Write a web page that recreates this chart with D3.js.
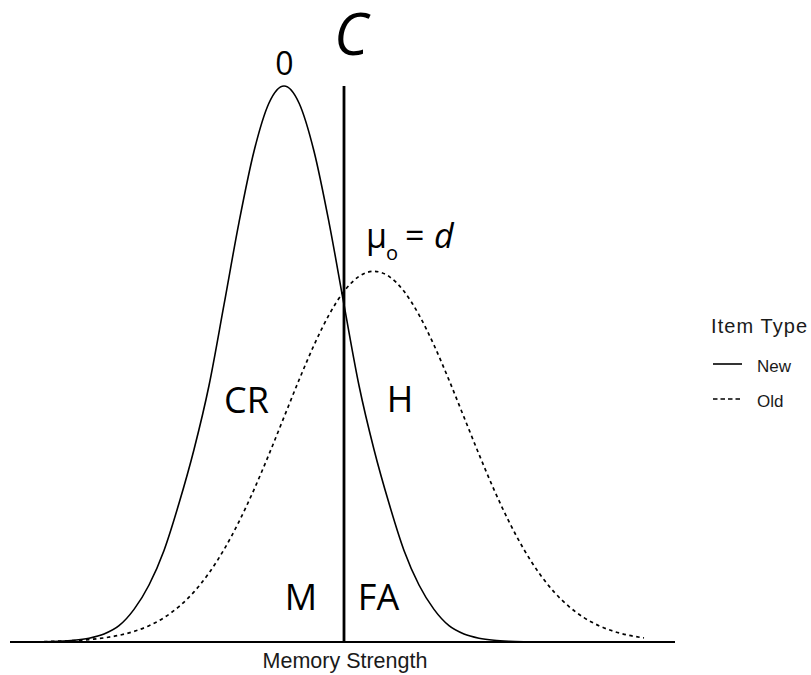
<!DOCTYPE html>
<html><head><meta charset="utf-8">
<script src="https://cdn.jsdelivr.net/npm/d3@7"></script>
<style>body{margin:0;background:#fff}</style>
</head><body>
<svg id="c" width="811" height="675"></svg>
<script>
// Memory strength values (x) and density readings for each item type
const xs = [-4,-3.75,-3.5,-3.25,-3,-2.75,-2.5,-2.25,-2,-1.75,-1.5,-1.25,-1,-0.75,-0.5,-0.25,0,0.25,0.5,0.75,1,1.25,1.5,1.75,2,2.25,2.5,2.75,3,3.25,3.5,3.75,4,4.25,4.5,4.75,5,5.25,5.5,5.75,6];
const newDensity = [0.00021,0.00053,0.00124,0.00275,0.00574,0.0117,0.0234,0.0409,0.0657,0.0995,0.1381,0.184,0.242,0.3011,0.3521,0.3867,0.3989,0.3867,0.3521,0.3011,0.242,0.184,0.1381,0.0995,0.0657,0.0409,0.0234,0.0117,0.00574,0.00275,0.00124,0.00053,0.00021,0.00008,0.00003,0,0,0,0,0,0];
const oldDensity = [0.00032,0.000582,0.001028,0.001766,0.002955,0.004803,0.007598,0.011685,0.01748,0.02544,0.03599,0.04954,0.06632,0.08635,0.10934,0.13467,0.16131,0.18795,0.21297,0.23471,0.25159,0.26229,0.26596,0.26229,0.25159,0.23471,0.21297,0.18795,0.16131,0.13467,0.10934,0.08635,0.06632,0.04954,0.03599,0.02544,0.01748,0.011685,0.007598,0.004803,0.002955];
const seriesNames = ["New","Old"];
const criterion = 1;
const newMean = 0, oldMean = 1.5, peakDensity = 0.3989;
const regionLabels = [
  {t:"CR", x:-0.625, y:0.1643},
  {t:"H",  x:1.933,  y:0.1650},
  {t:"M",  x:0.283,  y:0.023},
  {t:"FA", x:1.575,  y:0.023}
];

const svg = d3.select("#c");
const x = d3.scaleLinear().domain([-4.567, 6.517]).range([10, 675]);
const y = d3.scaleLinear().domain([0, peakDensity]).range([642, 86]);

const line = d3.line().x(d => x(d[0])).y(d => y(d[1])).curve(d3.curveMonotoneX);

// axis line
svg.append("line").attr("x1", x.range()[0]).attr("x2", x.range()[1])
  .attr("y1", y(0)).attr("y2", y(0)).attr("stroke", "#000").attr("stroke-width", 2);

svg.append("path").datum(xs.map((v,i)=>[v,newDensity[i]]))
  .attr("d", line).attr("fill","none").attr("stroke","#000").attr("stroke-width",1.6);
svg.append("path").datum(xs.map((v,i)=>[v,oldDensity[i]]))
  .attr("d", line).attr("fill","none").attr("stroke","#000").attr("stroke-width",1.7)
  .attr("stroke-dasharray","3.5,3.5");

// criterion
svg.append("line").attr("x1", x(criterion)).attr("x2", x(criterion))
  .attr("y1", y(peakDensity)).attr("y2", y(0)).attr("stroke","#000").attr("stroke-width",2.8);

const F = "'Open Sans', 'Noto Sans', sans-serif";
svg.append("text").attr("x", x(newMean)+0.5).attr("y", 75).attr("text-anchor","middle")
  .attr("font-family",F).attr("font-size",32).text("0");
svg.append("text").attr("x", x(criterion)+7).attr("y", 55).attr("text-anchor","middle")
  .attr("font-family",F).attr("font-size",58).attr("font-style","italic").text("C");

const mx = x(oldMean);
const mu = svg.append("text").attr("y", 248).attr("font-family",F).attr("font-size",34);
mu.append("tspan").attr("x", mx-8).text("μ");
mu.append("tspan").attr("x", mx+12).attr("y",260).attr("font-size",20).text("o");
mu.append("tspan").attr("x", mx+31).attr("y",248).text("=");
mu.append("tspan").attr("x", mx+60).attr("font-style","italic").text("d");

regionLabels.forEach(r => {
  svg.append("text").attr("x", x(r.x)).attr("y", y(r.y)).attr("text-anchor","middle")
    .attr("font-family",F).attr("font-size",36).text(r.t);
});

const A = "'Liberation Sans', Arial, sans-serif";
svg.append("text").attr("x", x(criterion)+1).attr("y", 668).attr("text-anchor","middle")
  .attr("font-family",A).attr("font-size",21.5).attr("fill","#1a1a1a")
  .text("Memory Strength");

// legend
const L = svg.append("g").attr("font-family",A);
L.append("text").attr("x",711).attr("y",333).attr("font-size",20).attr("fill","#1a1a1a")
  .attr("textLength",96).text("Item Type");
seriesNames.forEach((n,i) => {
  const yy = 364 + i*35;
  L.append("line").attr("x1",713).attr("x2",742).attr("y1",yy).attr("y2",yy)
    .attr("stroke","#000").attr("stroke-width",1.6).attr("stroke-dasharray", i ? "4.5,3" : null);
  L.append("text").attr("x",757).attr("y",yy+8).attr("font-size",17).attr("fill","#1a1a1a").text(n);
});
</script>
</body></html>
